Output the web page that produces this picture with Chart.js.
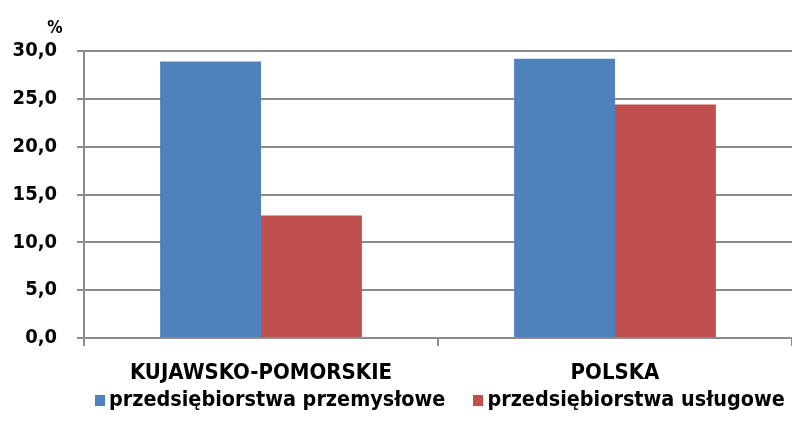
<!DOCTYPE html>
<html>
<head>
<meta charset="utf-8">
<script src="https://cdn.jsdelivr.net/npm/chart.js@4"></script>
<style>
  html, body { margin: 0; padding: 0; background: #fff; }
  #wrap { position: relative; width: 792px; height: 421px; }
  #legend { position: absolute; left: 95px; top: 386px; white-space: nowrap;
    font: bold 21.4px "DejaVu Sans Condensed", "DejaVu Sans", sans-serif; color: #000; }
  #legend span.item { margin-right: 28px; }
  #legend i { display: inline-block; width: 10px; height: 11px; margin-right: 4px; vertical-align: 0px; }
</style>
</head>
<body>
<div id="wrap">
  <canvas id="c" width="792" height="421"></canvas>
  <div id="legend"></div>
</div>
<script>
  var categories = ["KUJAWSKO-POMORSKIE", "POLSKA"];
  var seriesNames = ["przedsiębiorstwa przemysłowe", "przedsiębiorstwa usługowe"];
  var industrial = [28.9, 29.2];
  var services = [12.8, 24.4];
  var colors = ["#4f81bd", "#c0504d"];
  var FONT = '"DejaVu Sans Condensed", "DejaVu Sans", sans-serif';
  var GRID = "#8c8c8c";

  // "%" nad osią Y
  var unitLabel = {
    id: "unitLabel",
    afterDraw: function (chart) {
      var ctx = chart.ctx, y = chart.scales.y;
      ctx.save();
      ctx.font = "bold 17px " + FONT;
      ctx.fillStyle = "#000";
      ctx.textAlign = "center";
      ctx.textBaseline = "bottom";
      ctx.fillText("%", 55, y.top - 14);
      ctx.restore();
    }
  };

  new Chart(document.getElementById("c"), {
    type: "bar",
    data: {
      labels: categories,
      datasets: [
        { label: seriesNames[0], data: industrial, backgroundColor: colors[0] },
        { label: seriesNames[1], data: services, backgroundColor: colors[1] }
      ]
    },
    options: {
      responsive: false, animation: false,
      layout: { padding: { top: 51, right: 0, left: 0, bottom: 0 } },
      datasets: { bar: { barPercentage: 1, categoryPercentage: 0.57 } },
      plugins: { legend: { display: false }, tooltip: { enabled: false } },
      scales: {
        x: {
          afterFit: function (s) { s.height = 83; },
          border: { color: GRID, width: 2 },
          grid: { drawOnChartArea: false, color: GRID, lineWidth: 2, tickLength: 8 },
          ticks: { color: "#000", padding: 14, font: { family: FONT, size: 22, weight: "bold" } }
        },
        y: {
          min: 0, max: 30,
          afterFit: function (s) { s.width = 84; },
          border: { color: GRID, width: 2 },
          grid: { color: GRID, lineWidth: 2, tickLength: 7 },
          ticks: {
            stepSize: 5, color: "#000", padding: 20,
            font: { family: FONT, size: 20, weight: "bold" },
            callback: function (v) { return v.toFixed(1).replace(".", ","); }
          }
        }
      }
    },
    plugins: [unitLabel]
  });

  document.getElementById("legend").innerHTML = seriesNames.map(function (n, i) {
    return '<span class="item"><i style="background:' + colors[i] + '"></i>' + n + "</span>";
  }).join("");
</script>
</body>
</html>
